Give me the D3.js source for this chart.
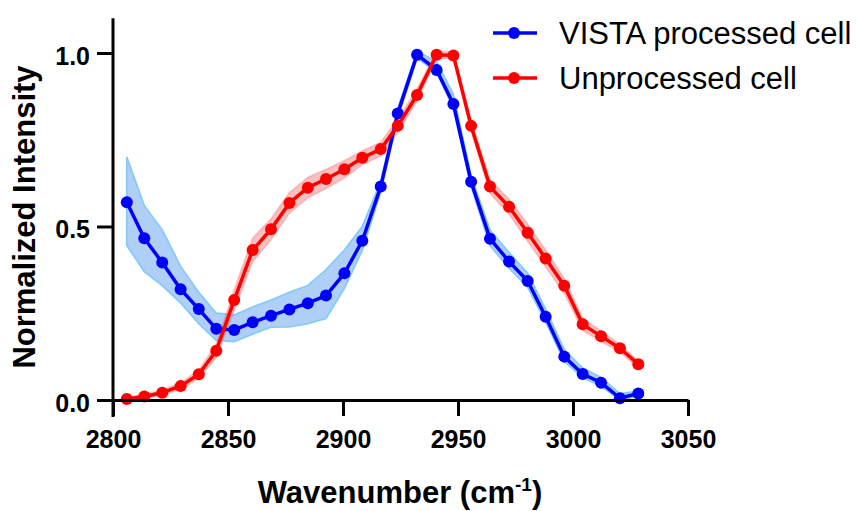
<!DOCTYPE html>
<html>
<head>
<meta charset="utf-8">
<script src="https://cdn.jsdelivr.net/npm/d3@7"></script>
<style>
    body { margin: 0; background: #fff; }
    svg { display: block; font-family: Arial, "Liberation Sans", sans-serif; }
</style>
</head>
<body>
<svg width="861" height="511"></svg>
<script>
// wavenumbers (cm-1) shared by both spectra
var wavenumber = [2806.0, 2813.6, 2821.4, 2829.4, 2837.3, 2844.9, 2852.7, 2860.7, 2868.7, 2876.7,
    2884.7, 2892.6, 2900.6, 2908.4, 2916.4, 2923.8, 2932.2, 2940.7, 2948.0, 2955.7,
    2963.9, 2972.2, 2980.3, 2988.1, 2996.2, 3004.2, 3012.2, 3020.4, 3028.4];

var vistaMean = [0.570, 0.466, 0.396, 0.319, 0.262, 0.205, 0.202, 0.224, 0.243, 0.261,
    0.279, 0.301, 0.365, 0.459, 0.615, 0.826, 0.995, 0.951, 0.853, 0.629,
    0.465, 0.399, 0.343, 0.240, 0.125, 0.075, 0.050, 0.005, 0.019];
var vistaUpper = [0.700, 0.560, 0.490, 0.385, 0.310, 0.250, 0.245, 0.268, 0.288, 0.310,
    0.330, 0.375, 0.432, 0.500, 0.630, 0.840, 1.005, 0.975, 0.880, 0.645,
    0.490, 0.425, 0.365, 0.262, 0.145, 0.092, 0.065, 0.018, 0.025];
var vistaLower = [0.445, 0.370, 0.330, 0.280, 0.220, 0.172, 0.168, 0.190, 0.210, 0.211,
    0.220, 0.235, 0.322, 0.432, 0.600, 0.812, 0.985, 0.945, 0.840, 0.615,
    0.445, 0.380, 0.325, 0.225, 0.112, 0.065, 0.040, 0.000, 0.012];

var unprocMean = [0.003, 0.010, 0.021, 0.040, 0.074, 0.142, 0.288, 0.432, 0.492, 0.568,
    0.612, 0.637, 0.665, 0.698, 0.723, 0.790, 0.879, 0.995, 0.993, 0.790,
    0.615, 0.557, 0.482, 0.408, 0.329, 0.218, 0.184, 0.149, 0.103];
var unprocSpread = [0.005, 0.006, 0.008, 0.010, 0.012, 0.020, 0.030, 0.035, 0.030, 0.030,
    0.030, 0.028, 0.025, 0.020, 0.020, 0.020, 0.018, 0.010, 0.010, 0.015,
    0.020, 0.022, 0.025, 0.025, 0.022, 0.018, 0.015, 0.012, 0.010];

var xTicks = [2800, 2850, 2900, 2950, 3000, 3050];
var yTicks = [0, 0.5, 1.0];
var seriesNames = ['VISTA processed cell', 'Unprocessed cell'];

(function () {
    var svg = d3.select('svg');

    var x = d3.scaleLinear().domain([2800, 3050]).range([113, 688]);
    var y = d3.scaleLinear().domain([0, 1.1]).range([400, 400 - 1.1 * 347]);

    var series = [
        {
            name: seriesNames[0], color: '#0000ff',
            bandFill: '#afcff6', bandStroke: '#86cbf8',
            mean: vistaMean, upper: vistaUpper, lower: vistaLower
        },
        {
            name: seriesNames[1], color: '#ff0000',
            bandFill: 'rgba(238, 90, 90, 0.38)', bandStroke: 'rgba(238, 90, 90, 0.25)',
            mean: unprocMean,
            upper: unprocMean.map(function (v, i) { return v + unprocSpread[i]; }),
            lower: unprocMean.map(function (v, i) { return Math.max(0, v - unprocSpread[i]); })
        }
    ];

    var area = d3.area()
        .x(function (d) { return x(d.x); })
        .y0(function (d) { return y(d.lo); })
        .y1(function (d) { return y(d.hi); });

    var line = d3.line()
        .x(function (d) { return x(d.x); })
        .y(function (d) { return y(d.y); });

    // bands behind everything
    series.forEach(function (s) {
        var pts = wavenumber.map(function (w, i) {
            return { x: w, lo: s.lower[i], hi: s.upper[i] };
        });
        svg.append('path')
            .attr('d', area(pts))
            .attr('fill', s.bandFill)
            .attr('stroke', s.bandStroke)
            .attr('stroke-width', 1.8);
    });

    // lines with markers
    series.forEach(function (s) {
        var pts = wavenumber.map(function (w, i) { return { x: w, y: s.mean[i] }; });
        svg.append('path')
            .attr('d', line(pts))
            .attr('fill', 'none')
            .attr('stroke', s.color)
            .attr('stroke-width', 3.5)
            .attr('stroke-linejoin', 'round');
        svg.append('g').selectAll('circle')
            .data(pts)
            .enter()
            .append('circle')
            .attr('cx', function (d) { return x(d.x); })
            .attr('cy', function (d) { return y(d.y); })
            .attr('r', 6)
            .attr('fill', s.color);
    });

    // axes
    var xAxis = svg.append('g')
        .attr('transform', 'translate(0,400)')
        .call(d3.axisBottom(x).tickValues(xTicks).tickSize(16).tickSizeOuter(0).tickPadding(14)
            .tickFormat(d3.format('d')));
    var yAxis = svg.append('g')
        .attr('transform', 'translate(113,0)')
        .call(d3.axisLeft(y).tickValues(yTicks).tickSize(16).tickSizeOuter(0).tickPadding(7)
            .tickFormat(d3.format('.1f')));

    [xAxis, yAxis].forEach(function (a) {
        a.selectAll('path, line').attr('stroke', '#000').attr('stroke-width', 3);
        a.selectAll('text')
            .attr('fill', '#000')
            .style('font-size', '25px')
            .style('font-weight', 'bold');
    });
    yAxis.select('.domain').attr('d', 'M0,' + y.range()[1] + 'V417');
    yAxis.selectAll('text').attr('dy', '0.45em');

    // axis titles
    var xTitle = svg.append('text')
        .attr('x', 400)
        .attr('y', 503)
        .attr('text-anchor', 'middle')
        .style('font-size', '31px')
        .style('font-weight', 'bold');
    xTitle.append('tspan').text('Wavenumber (cm');
    xTitle.append('tspan').attr('dy', -12).style('font-size', '19px').text('-1');
    xTitle.append('tspan').attr('dy', 12).text(')');

    svg.append('text')
        .attr('transform', 'translate(35,217) rotate(-90)')
        .attr('text-anchor', 'middle')
        .style('font-size', '31px')
        .style('font-weight', 'bold')
        .text('Normalized Intensity');

    // legend
    var legend = svg.append('g').selectAll('g')
        .data(series)
        .enter()
        .append('g')
        .attr('transform', function (d, i) { return 'translate(493,' + (33 + i * 45) + ')'; });
    legend.append('line')
        .attr('x1', 0).attr('x2', 44)
        .attr('stroke', function (d) { return d.color; })
        .attr('stroke-width', 3.5);
    legend.append('circle')
        .attr('cx', 21).attr('r', 6)
        .attr('fill', function (d) { return d.color; });
    legend.append('text')
        .attr('x', 66)
        .attr('y', 11)
        .style('font-size', '31px')
        .text(function (d) { return d.name; });
}());
</script>
</body>
</html>
